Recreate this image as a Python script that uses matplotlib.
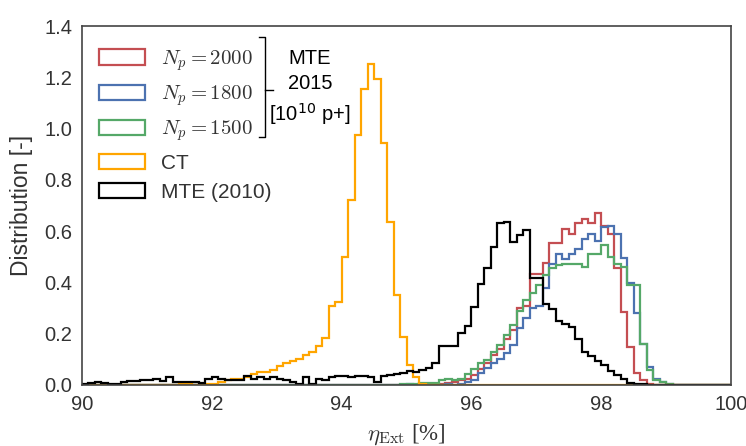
import numpy as np
import matplotlib
matplotlib.use("Agg")
import matplotlib.pyplot as plt

plt.rcParams['font.family'] = ['Liberation Sans', 'DejaVu Sans']
plt.rcParams['mathtext.fontset'] = 'cm'

# bin edges: 0.1 % wide bins from 90 to 100
bin_edges = np.round(np.arange(90.0, 100.0001, 0.1), 2)
nb = len(bin_edges) - 1

def fill(d):
    v = np.zeros(nb)
    for k, val in d.items():
        v[k] = val
    return v

# CT (orange)
ct_vals = fill({15: 0.002, 16: 0.003, 18: 0.004, 19: 0.003, 20: 0.005, 21: 0.01,
                22: 0.02, 23: 0.025, 24: 0.025, 25: 0.03, 26: 0.043, 27: 0.05,
                28: 0.05, 29: 0.058, 30: 0.075, 31: 0.085, 32: 0.093, 33: 0.10,
                34: 0.117, 35: 0.13, 36: 0.153, 37: 0.183, 38: 0.308, 39: 0.322,
                40: 0.50, 41: 0.72, 42: 0.975, 43: 1.154, 44: 1.252, 45: 1.193,
                46: 0.944, 47: 0.636, 48: 0.351, 49: 0.187, 50: 0.078, 51: 0.031,
                52: 0.005})

# MTE (2010) (black)
mte2010_vals = fill({0: 0.005, 1: 0.008, 2: 0.013, 3: 0.008, 4: 0.002, 5: 0.004,
                     6: 0.01, 7: 0.015, 8: 0.017, 9: 0.018, 10: 0.02, 11: 0.023,
                     12: 0.016, 13: 0.031, 14: 0.012, 15: 0.01, 16: 0.01, 17: 0.012,
                     18: 0.006, 19: 0.025, 20: 0.03, 21: 0.022, 22: 0.02, 23: 0.021,
                     24: 0.02, 25: 0.037, 26: 0.024, 27: 0.032, 28: 0.022, 29: 0.03,
                     30: 0.025, 31: 0.02, 32: 0.013, 33: 0.003, 34: 0.03, 35: 0.005,
                     36: 0.025, 37: 0.02, 38: 0.03, 39: 0.035, 40: 0.035, 41: 0.03,
                     42: 0.035, 43: 0.035, 44: 0.03, 45: 0.013, 46: 0.035, 47: 0.038,
                     48: 0.043, 49: 0.048, 50: 0.056, 51: 0.052, 52: 0.058, 53: 0.065,
                     54: 0.087, 55: 0.152, 56: 0.152, 57: 0.152, 58: 0.203, 59: 0.23,
                     60: 0.304, 61: 0.394, 62: 0.456, 63: 0.539, 64: 0.63, 65: 0.635,
                     66: 0.556, 67: 0.585, 68: 0.605, 69: 0.416, 70: 0.416, 71: 0.316,
                     72: 0.295, 73: 0.251, 74: 0.238, 75: 0.228, 76: 0.178, 77: 0.13,
                     78: 0.113, 79: 0.095, 80: 0.078, 81: 0.056, 82: 0.039, 83: 0.022,
                     84: 0.007, 85: 0.005, 86: 0.003})

# MTE 2015, Np = 2000 (red)
np2000_vals = fill({55: 0.005, 56: 0.008, 57: 0.01, 58: 0.02, 59: 0.025, 60: 0.04,
                    61: 0.061, 62: 0.085, 63: 0.117, 64: 0.14, 65: 0.18, 66: 0.214,
                    67: 0.30, 68: 0.31, 69: 0.433, 70: 0.433, 71: 0.475, 72: 0.553,
                    73: 0.553, 74: 0.607, 75: 0.59, 76: 0.63, 77: 0.646, 78: 0.63,
                    79: 0.67, 80: 0.62, 81: 0.59, 82: 0.456, 83: 0.286, 84: 0.15,
                    85: 0.047, 86: 0.02, 87: 0.005})

# MTE 2015, Np = 1800 (blue)
np1800_vals = fill({50: 0.002, 52: 0.003, 54: 0.003, 56: 0.003, 58: 0.005, 59: 0.01,
                    60: 0.02, 61: 0.045, 62: 0.065, 63: 0.085, 64: 0.10, 65: 0.124,
                    66: 0.156, 67: 0.221, 68: 0.26, 69: 0.30, 70: 0.31, 71: 0.38,
                    72: 0.47, 73: 0.51, 74: 0.49, 75: 0.51, 76: 0.53, 77: 0.57,
                    78: 0.59, 79: 0.56, 80: 0.615, 81: 0.62, 82: 0.59, 83: 0.495,
                    84: 0.397, 85: 0.28, 86: 0.16, 87: 0.07, 88: 0.025, 89: 0.01,
                    90: 0.003})

# MTE 2015, Np = 1500 (green)
np1500_vals = fill({49: 0.003, 50: 0.005, 51: 0.005, 52: 0.006, 53: 0.007, 54: 0.007,
                    55: 0.02, 56: 0.025, 57: 0.02, 58: 0.022, 59: 0.043, 60: 0.061,
                    61: 0.085, 62: 0.098, 63: 0.13, 64: 0.155, 65: 0.195, 66: 0.234,
                    67: 0.289, 68: 0.33, 69: 0.36, 70: 0.39, 71: 0.43, 72: 0.455,
                    73: 0.468, 74: 0.47, 75: 0.47, 76: 0.47, 77: 0.46, 78: 0.51,
                    79: 0.51, 80: 0.546, 81: 0.50, 82: 0.47, 83: 0.46, 84: 0.39,
                    85: 0.39, 86: 0.16, 87: 0.06, 88: 0.02, 89: 0.01, 90: 0.003})

series = [
    (np2000_vals, r'$N_p = 2000$', '#C44E52'),
    (np1800_vals, r'$N_p = 1800$', '#4C72B0'),
    (np1500_vals, r'$N_p = 1500$', '#55A868'),
    (ct_vals, 'CT', '#FFA500'),
    (mte2010_vals, 'MTE (2010)', 'black'),
]

xticks = [90, 92, 94, 96, 98, 100]
yticks = [0.0, 0.2, 0.4, 0.6, 0.8, 1.0, 1.2, 1.4]

fig = plt.figure(figsize=(7.46, 4.46), dpi=100)
ax = fig.add_axes([82 / 746, 61 / 446, 649 / 746, 359 / 446])

centers = (bin_edges[:-1] + bin_edges[1:]) / 2
for vals, label, color in series:
    ax.hist(centers, bins=bin_edges, weights=vals, histtype='step',
            color=color, lw=1.6, label=label)

ax.set_xlim(90, 100)
ax.set_ylim(0, 1.4)
ax.set_xticks(xticks)
ax.set_yticks(yticks)
ax.set_xticklabels([f'{t}' for t in xticks])
ax.set_yticklabels([f'{t:.1f}' for t in yticks])
ax.tick_params(axis='both', length=0, pad=7, labelsize=14.5, colors='#333333')
for s in ax.spines.values():
    s.set_color('#444444')
    s.set_linewidth(1.2)

ax.set_ylabel('Distribution [-]', fontsize=16.5, color='#333333', labelpad=8)
ax.set_xlabel(r'$\eta_{\mathrm{Ext}}$ [%]', fontsize=16.5, color='#333333',
              labelpad=6)
ax.xaxis.label.set_fontfamily(['Liberation Serif'])

leg = ax.legend(loc='upper left', frameon=False, fontsize=15,
                handlelength=2.2, handleheight=0.75, labelspacing=0.5,
                handletextpad=0.8, borderaxespad=0.4, bbox_to_anchor=(0.0, 0.985))
for t in leg.get_texts():
    t.set_color('#333333')

# bracket for the MTE 2015 entries
bx, by0, by1, bym = 265 / 746, 1 - 37 / 446, 1 - 137 / 446, 1 - 90 / 446
fig.add_artist(plt.Line2D([bx - 6 / 746, bx, bx, bx - 6 / 746],
                          [by0, by0, by1, by1], color='black', lw=1.0,
                          transform=fig.transFigure))
fig.add_artist(plt.Line2D([bx, bx + 8 / 746], [bym, bym], color='black', lw=1.0,
                          transform=fig.transFigure))
fig.text(310 / 746, 1 - 88 / 446, 'MTE\n2015\n[10$^{10}$ p+]', ha='center',
         va='center', fontsize=14.5, color='black', linespacing=1.4,
         math_fontfamily='dejavusans')

fig.savefig('out.png', dpi=100)
